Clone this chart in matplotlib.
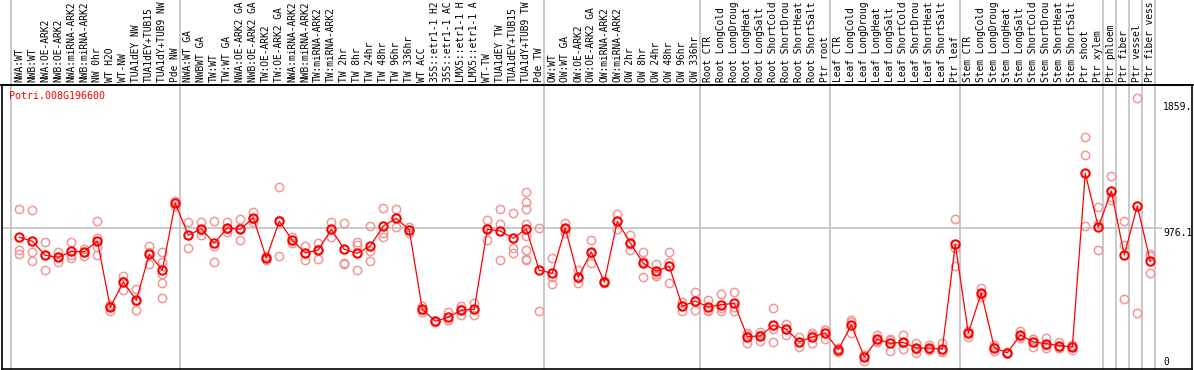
"""
Expression profile plot for one poplar gene
"""
import matplotlib
matplotlib.use('Agg')
import matplotlib.pyplot as plt
import matplotlib.transforms as mtransforms

gene = 'Potri.008G196600'

samples = ['NWA:WT', 'NWB:WT', 'NWA:OE-ARK2', 'NWB:OE-ARK2', 'NWA:miRNA-ARK2',
           'NWB:miRNA-ARK2', 'NW 0hr', 'WT H2O', 'WT-NW', 'TUA1dEY NW',
           'TUA1dEY+TUB15', 'TUA1dY+TUB9 NW', 'Pde NW',
           'NWA:WT GA', 'NWBWT GA', 'TW:WT', 'TW:WT GA', 'NWA:OE-ARK2 GA',
           'NWB:OE-ARK2 GA', 'TW:OE-ARK2', 'TW:OE-ARK2 GA', 'NWA:miRNA-ARK2',
           'NWB:miRNA-ARK2', 'TW:miRNA-ARK2', 'TW:miRNA-ARK2', 'TW 2hr', 'TW 8hr',
           'TW 24hr', 'TW 48hr', 'TW 96hr', 'TW 336hr', 'WT ACC',
           '35S::etr1-1 H2O', '35S::etr1-1 ACC', 'LMX5::etr1-1 H2O',
           'LMX5::etr1-1 ACC', 'WT-TW', 'TUA1dEY TW', 'TUA1dEY+TUB15',
           'TUA1dY+TUB9 TW', 'Pde TW',
           'OW:WT', 'OW:WT GA', 'OW:OE-ARK2', 'OW:OE-ARK2 GA', 'OW:miRNA-ARK2',
           'OW:miRNA-ARK2', 'OW 2hr', 'OW 8hr', 'OW 24hr', 'OW 48hr', 'OW 96hr',
           'OW 336hr',
           'Root CTR', 'Root LongCold', 'Root LongDrought', 'Root LongHeat',
           'Root LongSalt', 'Root ShortCold', 'Root ShortDrought',
           'Root ShortHeat', 'Root ShortSalt', 'Ptr root',
           'Leaf CTR', 'Leaf LongCold', 'Leaf LongDrought', 'Leaf LongHeat',
           'Leaf LongSalt', 'Leaf ShortCold', 'Leaf ShortDrought',
           'Leaf ShortHeat', 'Leaf ShortSalt', 'Ptr leaf',
           'Stem CTR', 'Stem LongCold', 'Stem LongDrought', 'Stem LongHeat',
           'Stem LongSalt', 'Stem ShortCold', 'Stem ShortDrought',
           'Stem ShortHeat', 'Stem ShortSalt', 'Ptr shoot', 'Ptr xylem',
           'Ptr phloem', 'Ptr fiber', 'Ptr vessel', 'Ptr fiber vessel']

# group boundaries (index of first sample after a separator)
separators = [0, 13, 41, 53, 63, 73, 84, 85, 86, 87, 88]

means = [909, 881, 782, 768, 810, 808, 883, 417, 595, 466,
         791, 677, 1148, 923, 969, 867, 976, 965, 1046, 763,
         1021, 888, 799, 820, 965, 824, 796, 848, 988, 1042,
         960, 403, 319, 347, 398, 403, 965, 953, 902, 967,
         677, 656, 972, 628, 806, 595, 1021, 869, 726, 670,
         705, 424, 461, 419, 435, 445, 211, 216, 291, 263,
         174, 209, 237, 119, 293, 68, 192, 164, 171, 131,
         131, 124, 860, 237, 518, 133, 98, 223, 174, 162,
         148, 138, 1358, 979, 1234, 784, 1129, 740]

replicates = [
    [1105, 820, 791], [1098, 803, 740], [874, 782, 679], [806, 768, 733],
    [874, 787, 766], [829, 808, 780], [1021, 902, 843, 782], [431, 426, 393],
    [639, 602, 541], [544, 459, 396], [848, 806, 721],
    [808, 737, 649, 586, 483], [1166, 1148, 1129],
    [1014, 923, 832], [1018, 962, 927], [1021, 846, 733], [1016, 967, 946],
    [1035, 972, 888], [1086, 1039, 1014], [778, 771, 749], [1260, 1028, 775],
    [909, 888, 867], [848, 799, 749], [871, 829, 758], [1016, 967, 911],
    [1007, 730, 721], [876, 853, 679], [988, 810, 742], [1112, 941, 909],
    [1105, 1042, 979], [983, 960, 937], [426, 398, 384], [323, 319, 315],
    [384, 328, 328], [426, 403, 365], [445, 403, 361], [1030, 974, 890],
    [1105, 1000, 749], [1077, 832, 796],
    [1225, 1155, 1107, 1000, 918, 820, 756, 749], [972, 391],
    [761, 632, 579], [1011, 967, 937], [677, 621, 586], [888, 801, 728],
    [602, 595, 588], [1072, 1022, 969], [925, 864, 817], [806, 745, 628],
    [719, 654, 637], [806, 737, 586], [454, 425, 393], [523, 464, 398],
    [468, 398, 391], [508, 409, 389], [525, 422, 389], [239, 225, 169],
    [244, 225, 178], [410, 267, 174], [302, 265, 221], [211, 174, 138],
    [235, 223, 169], [260, 258, 192], [131, 124, 103], [328, 312, 239],
    [82, 80, 42], [223, 179, 176], [192, 188, 112], [223, 165, 126],
    [169, 127, 98], [152, 124, 117], [164, 107, 101], [1035, 836, 707],
    [251, 249, 211], [553, 508, 492], [152, 136, 112], [103, 98, 93],
    [251, 216, 202], [192, 192, 136], [202, 152, 131], [176, 133, 133],
    [149, 149, 117], [1611, 1485, 988], [1119, 1000, 817], [1337, 1194, 1171],
    [1023, 853, 473], [1885, 1126, 375], [789, 777, 656]]

ticks = [1859, 976.1, 0]
tick_labels = ['1859.', '976.1', '0']

##############################################################################
# figure: 1194 x 370 px, plot box from x=2..1192, y=85..369
##############################################################################
fig = plt.figure(figsize=(11.94, 3.70), dpi=100)
ax = fig.add_axes([2 / 1194., 1 / 370., 1190 / 1194., 284 / 370.])
ax.set_xlim(-1.331, 90.208)
ax.set_ylim(-16.2, 1978)
ax.set_xticks([])
ax.set_yticks([])
for sp in ax.spines.values():
    sp.set_linewidth(1.2)
    sp.set_color('black')

xpos = list(range(len(samples)))
trans = mtransforms.blended_transform_factory(ax.transData, ax.transAxes)

# gray separators run through the label area too
for s in separators:
    ax.plot([s - 0.63, s - 0.63], [0, 1.3], color='#c0c0c0', lw=1.2,
            transform=trans, clip_on=False, zorder=1)
ax.hlines(976.1, -1.331, 87.9, color='#c0c0c0', lw=1.2, zorder=1)
fig.add_artist(plt.Line2D([0, 1], [1 - 85 / 370., 1 - 85 / 370.],
                          color='black', lw=1.2))

for i, reps in enumerate(replicates):
    ax.plot([i] * len(reps), reps, 'o', ms=6, mfc='none', mec='#f09898',
            mew=1.1, zorder=2)

ax.plot(xpos, means, '-', color='red', lw=0.9, zorder=3)
ax.plot(xpos, means, 'o', ms=6, mfc='none', mec='red', mew=1.5, zorder=4)

# the page only shows the first 14 characters of each sample name
for i, lab in enumerate(samples):
    ax.text(i, 1.012, lab[:14], rotation=90, ha='center', va='bottom',
            family='DejaVu Sans Mono', size=6.9, transform=trans, clip_on=False)

ax.text(0.006, 0.963, gene, color='red', family='DejaVu Sans Mono', size=7.2,
        ha='left', va='center', transform=ax.transAxes)

ytrans = mtransforms.blended_transform_factory(ax.transAxes, ax.transData)
for v, lab in zip(ticks, tick_labels):
    ax.text(0.9756, v, lab, family='DejaVu Sans Mono', size=7,
            ha='left', va='bottom' if v == 0 else 'top', transform=ytrans)

fig.savefig('out.png', dpi=100)
